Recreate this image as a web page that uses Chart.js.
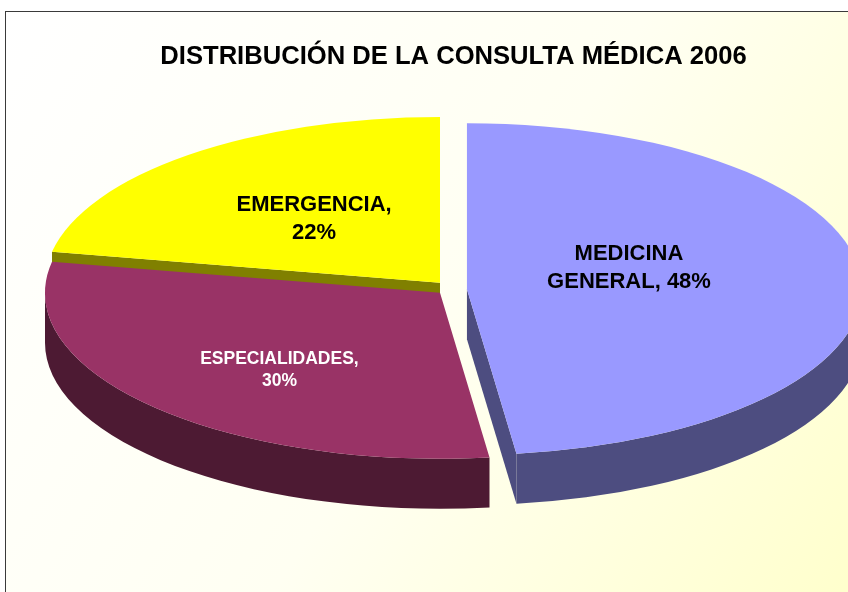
<!DOCTYPE html>
<html lang="es">
<head>
<meta charset="UTF-8">
<title>Distribución de la consulta médica 2006</title>
<script src="https://cdn.jsdelivr.net/npm/chart.js"></script>
<style>
  html, body { margin: 0; padding: 0; overflow: hidden; background: #fff; }
  #wrap { position: absolute; left: 0; top: 0; width: 912px; height: 600px; }
</style>
</head>
<body>
<div id="wrap"><canvas id="pie" width="912" height="600"></canvas></div>
<script>
// datos
const categories = ['MEDICINA GENERAL', 'ESPECIALIDADES', 'EMERGENCIA'];
const percents = [48, 30, 22];
const chartTitle = 'DISTRIBUCIÓN DE LA CONSULTA MÉDICA 2006';

// simple word wrap for the slice labels
function wrapText(ctx, text, maxWidth) {
    const words = text.split(' ');
    const lines = [];
    let line = '';
    for (const w of words) {
        const test = line ? line + ' ' + w : w;
        if (line && ctx.measureText(test).width > maxWidth) {
            lines.push(line);
            line = w;
        } else {
            line = test;
        }
    }
    if (line) lines.push(line);
    return lines;
}

// draws the pie as a tilted 3D disc, using the arcs Chart.js laid out
const pie3d = {
    id: 'pie3d',
    beforeDraw(chart, args, o) {
        const { ctx, width, height } = chart;
        ctx.save();
        ctx.fillStyle = '#ffffff';
        ctx.fillRect(0, 0, width, height);
        const fx = o.frame.left, fy = o.frame.top;
        const g = ctx.createLinearGradient(fx, fy, width, height);
        g.addColorStop(0, '#FFFFFF');
        g.addColorStop(0.5, '#FFFFF2');
        g.addColorStop(1, '#FFFFC8');
        ctx.fillStyle = g;
        ctx.fillRect(fx, fy, width - 2 * fx, height - fy);
        ctx.strokeStyle = '#3a3a3a';
        ctx.lineWidth = 1;
        ctx.strokeRect(fx + 0.5, fy + 0.5, width - 2 * fx - 1, height - fy - 4);
        ctx.restore();
    },
    beforeDatasetsDraw(chart, args, o) {
        const { ctx } = chart;
        const ca = chart.chartArea;
        const arcs = chart.getDatasetMeta(0).data;
        const offs = arcs.map(a => a.options.offset || 0);
        const maxOff = Math.max(...offs);
        const depth = o.depth;
        const rx = (ca.width - maxOff) / 2;
        const ry = rx * o.tilt;
        const cx = ca.left + rx;
        const cy = (ca.top + ca.bottom - depth) / 2;

        const slices = arcs.map((a, i) => {
            const mid = (a.startAngle + a.endAngle) / 2;
            return {
                i,
                s: a.startAngle,
                e: a.endAngle,
                x: cx + offs[i] * Math.cos(mid),
                y: cy + offs[i] * Math.sin(mid) * o.tilt - (o.lift[i] || 0),
                top: a.options.backgroundColor,
                side: o.sideColors[i]
            };
        });
        const pt = (sl, ang, dz) => [sl.x + rx * Math.cos(ang), sl.y + ry * Math.sin(ang) + dz];

        ctx.save();

        // radial side faces that look towards the viewer
        slices.forEach(sl => {
            const faces = [];
            if (Math.cos(sl.s) < -1e-3) faces.push(sl.s);
            if (Math.cos(sl.e) > 1e-3) faces.push(sl.e);
            faces.forEach(ang => {
                const p = pt(sl, ang, 0);
                ctx.beginPath();
                ctx.moveTo(sl.x, sl.y);
                ctx.lineTo(p[0], p[1]);
                ctx.lineTo(p[0], p[1] + depth);
                ctx.lineTo(sl.x, sl.y + depth);
                ctx.closePath();
                ctx.fillStyle = sl.side;
                ctx.fill();
            });
        });

        // outer curved walls, front half only
        slices.forEach(sl => {
            const a0 = Math.max(sl.s, 0);
            const a1 = Math.min(sl.e, Math.PI);
            if (a1 <= a0) return;
            ctx.beginPath();
            ctx.ellipse(sl.x, sl.y, rx, ry, 0, a0, a1, false);
            ctx.ellipse(sl.x, sl.y + depth, rx, ry, 0, a1, a0, true);
            ctx.closePath();
            ctx.fillStyle = sl.side;
            ctx.fill();
        });

        // top faces
        slices.forEach(sl => {
            ctx.beginPath();
            ctx.moveTo(sl.x, sl.y);
            ctx.ellipse(sl.x, sl.y, rx, ry, 0, sl.s, sl.e, false);
            ctx.closePath();
            ctx.fillStyle = sl.top;
            ctx.fill();
        });

        // labels: "CATEGORIA, xx%"
        ctx.textAlign = 'center';
        ctx.textBaseline = 'middle';
        slices.forEach(sl => {
            const [r, t] = o.labelAt[sl.i];
            const ang = sl.s + t * (sl.e - sl.s);
            const lx = sl.x + r * rx * Math.cos(ang);
            const ly = sl.y + r * ry * Math.sin(ang);
            const size = o.labelSize[sl.i];
            ctx.font = 'bold ' + size + 'px "Liberation Sans", Arial, sans-serif';
            ctx.fillStyle = o.labelColor[sl.i];
            const text = categories[sl.i] + ', ' + percents[sl.i] + '%';
            const lines = wrapText(ctx, text, o.labelWidth);
            const lh = size * 1.27;
            lines.forEach((ln, k) => {
                ctx.fillText(ln, lx, ly + (k - (lines.length - 1) / 2) * lh);
            });
        });

        ctx.restore();
        return false;
    }
};

const ctx = document.getElementById('pie').getContext('2d');
new Chart(ctx, {
    type: 'pie',
    data: {
        labels: categories,
        datasets: [{
            data: percents,
            backgroundColor: ['#9999FF', '#993366', '#FFFF00'],
            offset: [27, 0, 0],
            borderWidth: 0
        }]
    },
    options: {
        responsive: false,
        animation: false,
        events: [],
        layout: {
            padding: { top: 11, left: 45, right: 50, bottom: 44 }
        },
        plugins: {
            legend: { display: false },
            tooltip: { enabled: false },
            title: {
                display: true,
                text: chartTitle,
                color: '#000000',
                font: { family: '"Liberation Sans", Arial, sans-serif', size: 25.6, weight: 'bold' },
                padding: { top: 31, bottom: 7 }
            },
            pie3d: {
                frame: { left: 5, top: 11 },
                tilt: 0.42,
                depth: 50,
                lift: [3, 0, 10],
                sideColors: ['#4D4D80', '#4D1A33', '#808000'],
                labelAt: [[0.43, 0.42], [0.62, 0.446], [0.5, 0.5]],
                labelSize: [22, 17.5, 22],
                labelColor: ['#000000', '#ffffff', '#000000'],
                labelWidth: 180
            }
        }
    },
    plugins: [pie3d]
});
</script>
</body>
</html>
